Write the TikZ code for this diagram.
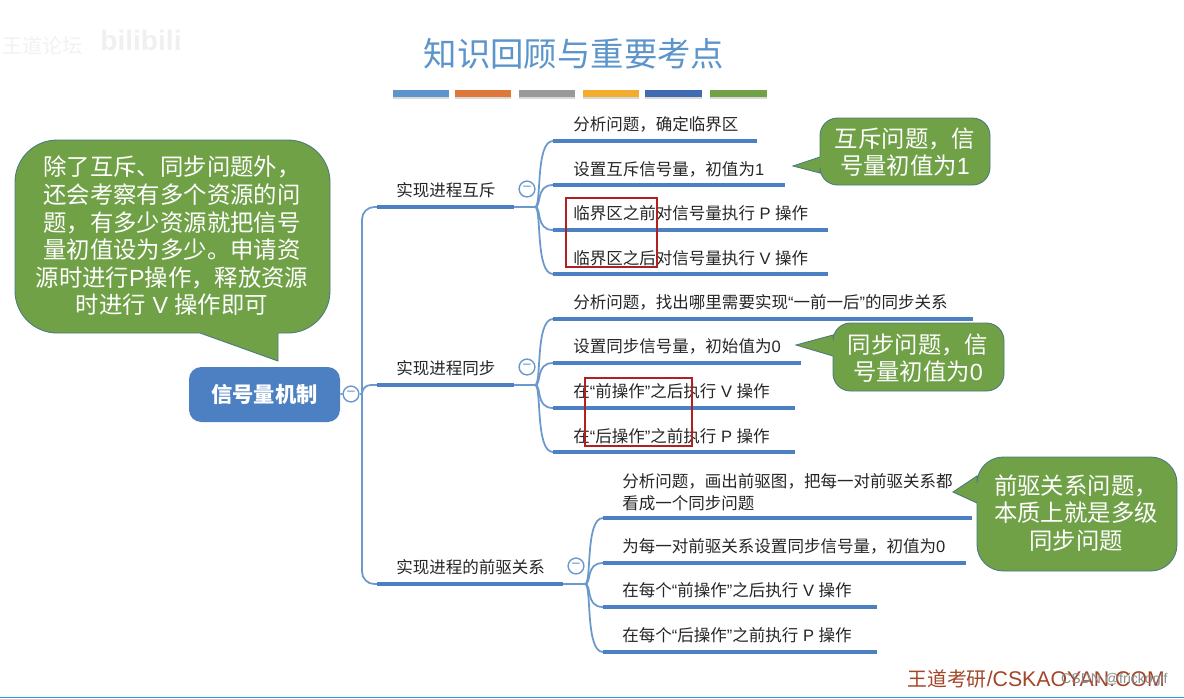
\documentclass[tikz,border=0pt]{standalone}
\usepackage{fontspec}
\setmainfont{Noto Sans CJK SC}
\newfontfamily\latinfont{Liberation Sans}
\newcommand{\lat}[1]{{\latinfont #1}}
\definecolor{cbar}{rgb}{0.30, 0.50, 0.76}
\definecolor{cline}{rgb}{0.42, 0.60, 0.80}
\definecolor{cnote}{rgb}{0.44, 0.63, 0.28}
\definecolor{cnoteline}{rgb}{0.30, 0.48, 0.50}
\definecolor{ctitle}{rgb}{0.36, 0.58, 0.80}
\definecolor{cred}{rgb}{0.70, 0.13, 0.13}
\definecolor{corange}{rgb}{0.87, 0.47, 0.22}
\definecolor{cgray}{rgb}{0.60, 0.60, 0.60}
\definecolor{cyellow}{rgb}{0.95, 0.68, 0.18}
\definecolor{cdeep}{rgb}{0.25, 0.42, 0.70}
\definecolor{cbrand}{rgb}{0.64, 0.27, 0.16}
\definecolor{cedge}{rgb}{0.12, 0.63, 0.86}
\tikzset{
  bar/.style={cbar, line width=2.6pt},
  link/.style={cline, line width=1pt},
  leaf/.style={anchor=west, inner sep=0pt, font=\fontsize{9.4}{12.4}\selectfont, text=black!85},
  branch/.style={anchor=west, inner sep=0pt, font=\fontsize{9.4}{11.5}\selectfont, text=black!85},
  fold/.style={circle, draw=cline, fill=white, line width=0.8pt, minimum size=9pt, inner sep=0pt, font=\fontsize{9}{9}\selectfont, text=cline},
  notebox/.style={fill=cnote, draw=cnoteline, line width=0.5pt},
  notetext/.style={align=center, inner sep=0pt, text=white, font=\fontsize{13.3}{15.7}\selectfont},
  redbox/.style={draw=cred, line width=0.9pt}
}

\begin{document}
\begin{tikzpicture}[x=0.02cm, y=-0.02cm]
  \useasboundingbox (0, 0) rectangle (1184, 698);
  \fill [white] (0, 0) rectangle (1184, 698);

  % watermark
  \node [inner sep=0pt, anchor=west, text=black!5, font=\fontsize{11.5}{11.5}\selectfont] (mark1) at (2, 46) {王道论坛};
  \node [inner sep=0pt, anchor=west, text=black!6, font=\fontsize{16}{16}\selectfont\bfseries] (mark2) at (100, 40) {\lat{bilibili}};

  % title
  \node [text=ctitle, font=\fontsize{19}{19}\selectfont] (title) at (574, 54) {知识回顾与重要考点};
  \foreach \xa/\xb/\barcolor in {393/449/ctitle, 455/511/corange, 519/575/cgray, 583/639/cyellow, 645/702/cdeep, 710/767/cnote} {
    \fill [black!15] (\xa, 93) rectangle (\xb, 98.5);
    \fill [\barcolor] (\xa, 90) rectangle (\xb, 96.5);
  }

  % root
  \node [fill=cbar, rounded corners=7pt, minimum width=151*0.02cm, minimum height=55*0.02cm, text=white, font=\fontsize{12.1}{12.1}\selectfont\bfseries] (root) at (264.5, 394.5) {信号量机制};
  \node [fold] (rootfold) at (351, 394) {−};
  \coordinate (trunk) at (362, 394);
  \draw [link] (root) -- (rootfold);
  \draw [link] (rootfold) -- (trunk);

  % first level
  \coordinate (a0) at (377, 207);
  \coordinate (a1) at (514, 207);
  \coordinate (ah) at (535, 207);
  \coordinate (b0) at (377, 385);
  \coordinate (b1) at (514, 385);
  \coordinate (bh) at (535, 385);
  \coordinate (c0) at (377, 584);
  \coordinate (c1) at (563, 584);
  \coordinate (ch) at (585, 584);

  \draw [link, rounded corners=7pt] (a0) -| (trunk);
  \draw [link, rounded corners=5pt] (trunk) |- (b0);
  \draw [link, rounded corners=7pt] (c0) -| (trunk);
  \draw [bar] (a0) -- (a1);
  \draw [bar] (b0) -- (b1);
  \draw [bar] (c0) -- (c1);
  \draw [link] (a1) -- (ah);
  \draw [link] (b1) -- (bh);
  \draw [link] (c1) -- (ch);

  \node [branch] (mutex) at (396, 190) {实现进程互斥};
  \node [branch] (sync) at (396, 368) {实现进程同步};
  \node [branch] (prec) at (396, 567) {实现进程的前驱关系};
  \node [fold] (afold) at (527, 189) {−};
  \node [fold] (bfold) at (527, 367) {−};
  \node [fold] (cfold) at (576, 566) {−};

  % leaves
  \foreach \name/\ya/\yb/\xe in {a1/141/207/757, a2/185/207/785, a3/230/207/828, a4/274/207/828,
                                 b1/319/385/973, b2/363/385/801, b3/408/385/795, b4/452/385/795} {
    \coordinate (\name s) at (553, \ya);
    \coordinate (\name e) at (\xe, \ya);
    \coordinate (\name h) at (535, \yb);
    \draw [link] (\name h) .. controls (542, \yb) and (535, \ya) .. (\name s);
    \draw [bar] (\name s) -- (\name e);
  }
  \foreach \name/\ya/\xe in {c1/518/972, c2/563/966, c3/607/877, c4/652/877} {
    \coordinate (\name s) at (603, \ya);
    \coordinate (\name e) at (\xe, \ya);
    \draw [link] (ch) .. controls (592, 584) and (585, \ya) .. (\name s);
    \draw [bar] (\name s) -- (\name e);
  }

  \node [leaf] (la1) at (573, 124) {分析问题，确定临界区};
  \node [leaf] (la2) at (573, 169) {设置互斥信号量，初值为\lat{1}};
  \node [leaf] (la3) at (573, 213) {临界区之前对信号量执行\lat{ P }操作};
  \node [leaf] (la4) at (573, 258) {临界区之后对信号量执行\lat{ V }操作};
  \node [leaf] (lb1) at (573, 302) {分析问题，找出哪里需要实现\lat{“}一前一后\lat{”}的同步关系};
  \node [leaf] (lb2) at (573, 346) {设置同步信号量，初始值为\lat{0}};
  \node [leaf] (lb3) at (573, 391) {在\lat{“}前操作\lat{”}之后执行\lat{ V }操作};
  \node [leaf] (lb4) at (573, 436) {在\lat{“}后操作\lat{”}之前执行\lat{ P }操作};
  \node [leaf, align=left] (lc1) at (622, 492) {分析问题，画出前驱图，把每一对前驱关系都\\看成一个同步问题};
  \node [leaf] (lc2) at (622, 546) {为每一对前驱关系设置同步信号量，初值为\lat{0}};
  \node [leaf] (lc3) at (622, 590) {在每个\lat{“}前操作\lat{”}之后执行\lat{ V }操作};
  \node [leaf] (lc4) at (622, 635) {在每个\lat{“}后操作\lat{”}之前执行\lat{ P }操作};

  % red frames
  \draw [redbox] (566, 198) rectangle (657, 267);
  \draw [redbox] (585, 378) rectangle (692, 446);

  % notes
  \draw [notebox, rounded corners=24pt] (200, 333) -- (15, 333) -- (15, 140) -- (330, 140) -- (330, 333) [sharp corners] -- (278, 333) -- (278, 361) -- cycle;
  \node [notetext] (note0) at (172, 236) {除了互斥、同步问题外，\\还会考察有多个资源的问\\题，有多少资源就把信号\\量初值设为多少。申请资\\源时进行\lat{P}操作，释放资源\\时进行\lat{ V }操作即可};

  \draw [notebox, rounded corners=10pt] (820, 157) -- (820, 118) -- (990, 118) -- (990, 185) -- (820, 185) [sharp corners] -- (820, 173) -- (793, 166) -- cycle;
  \node [notetext] (note1) at (905, 152) {互斥问题，信\\号量初值为\lat{1}};

  \draw [notebox, rounded corners=10pt] (833, 335) -- (833, 323) -- (1004, 323) -- (1004, 391) -- (833, 391) [sharp corners] -- (833, 356) -- (796, 345) -- cycle;
  \node [notetext] (note2) at (918, 358) {同步问题，信\\号量初值为\lat{0}};

  \draw [notebox, rounded corners=15pt] (977, 476) -- (977, 457) -- (1177, 457) -- (1177, 571) -- (977, 571) [sharp corners] -- (977, 503) -- (953, 492) -- cycle;
  \node [notetext] (note3) at (1076, 513) {前驱关系问题，\\本质上就是多级\\同步问题};

  % footer
  \node [inner sep=0pt, anchor=west, text=cbrand, font=\fontsize{11.3}{11.3}\selectfont] (brand) at (907, 679) {王道考研\lat{\fontsize{12.1}{12.1}\selectfont /CSKAOYAN.COM}};
  \node [inner sep=0pt, anchor=east, text=black!45, font=\fontsize{8}{8}\selectfont] (csdn) at (1168, 680) {\lat{CSDN @frickoglf}};
  \fill [cedge] (0, 696.6) rectangle (1184, 698);
\end{tikzpicture}
\end{document}
